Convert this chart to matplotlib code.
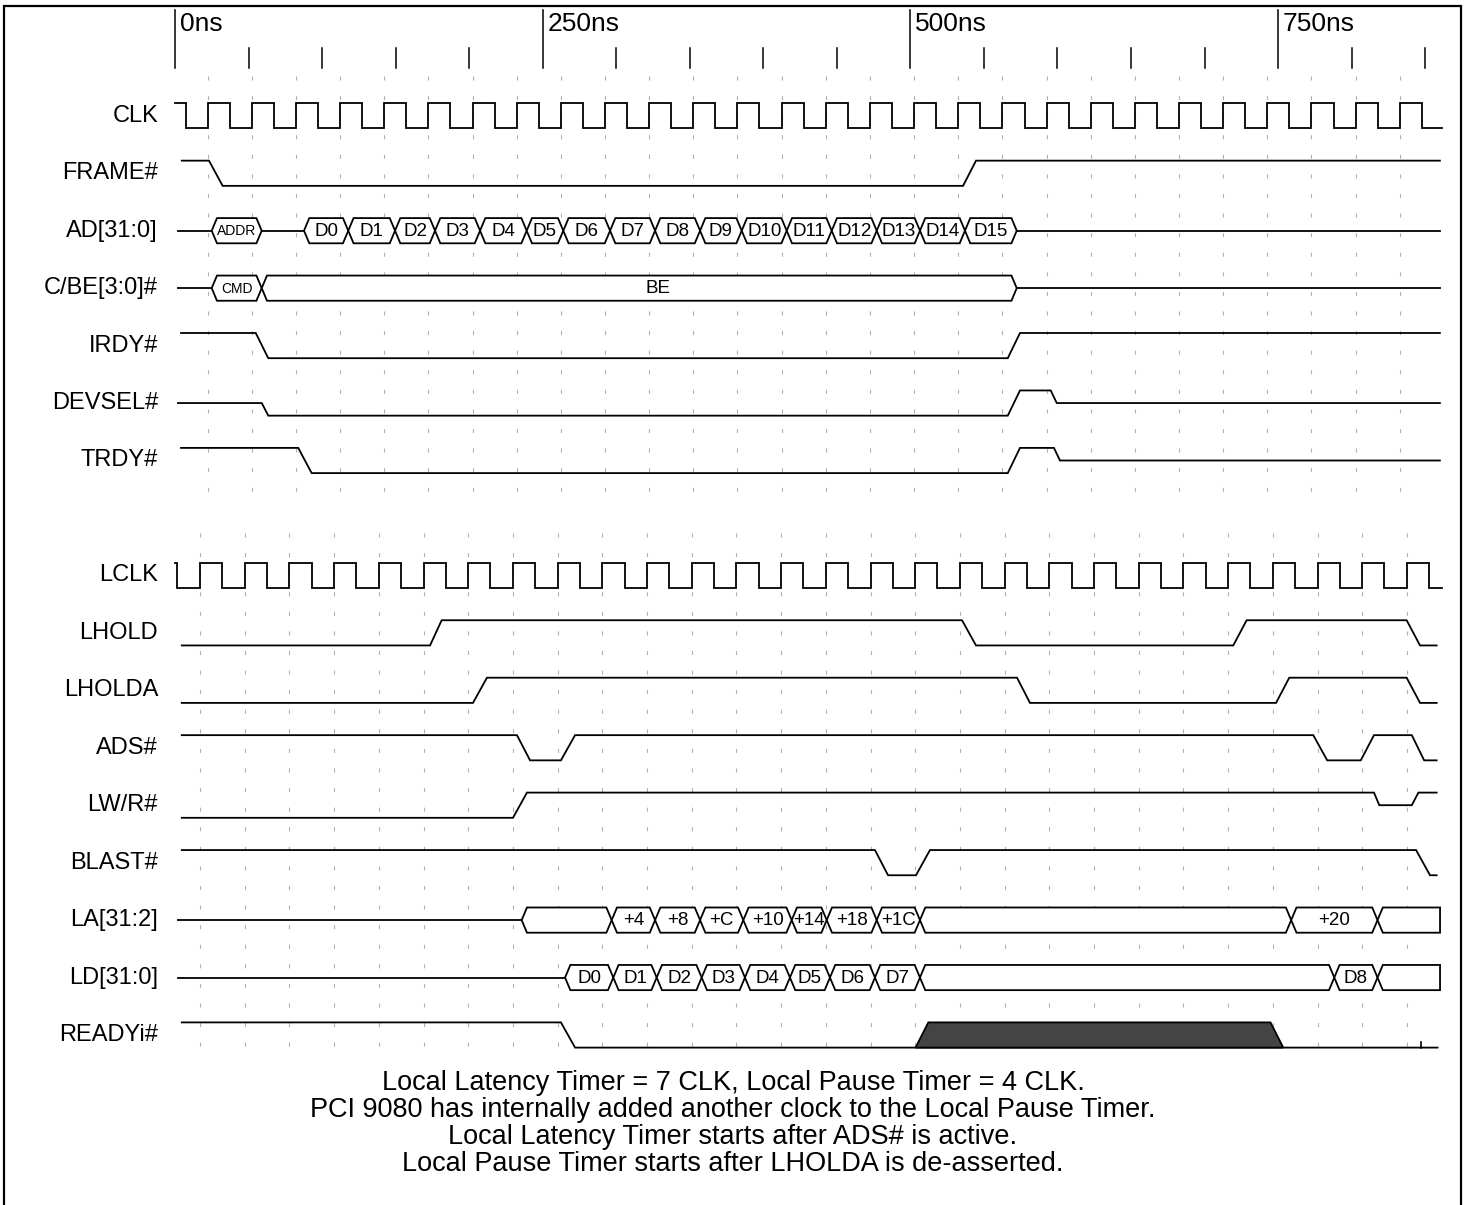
import matplotlib
matplotlib.use("Agg")
import matplotlib.pyplot as plt
from matplotlib.patches import Polygon

plt.rcParams['font.family'] = ['Liberation Sans', 'DejaVu Sans']
plt.rcParams['lines.scale_dashes'] = False

# ------------------------------------------------------------------ data
signal_names = ["CLK", "FRAME#", "AD[31:0]", "C/BE[3:0]#", "IRDY#", "DEVSEL#",
                "TRDY#", "", "LCLK", "LHOLD", "LHOLDA", "ADS#", "LW/R#",
                "BLAST#", "LA[31:2]", "LD[31:0]", "READYi#"]

major_ticks = [0, 250, 500, 750]
major_labels = ["0ns", "250ns", "500ns", "750ns"]
minor_ticks = [50, 100, 150, 200, 300, 350, 400, 450, 550, 600, 650, 700, 800, 850]

# clock rising edges (ns)
clk_rises = [22.2, 52.2, 82.2, 112.3, 142.3, 172.3, 202.3, 232.3, 262.4, 292.4,
             322.4, 352.4, 382.4, 412.5, 442.5, 472.5, 502.5, 532.5, 562.6, 592.6,
             622.6, 652.6, 682.6, 712.7, 742.7, 772.7, 802.7, 832.7]
clk_first_fall = 7.2
clk_high_ns = 15.0
lclk_rises = [17.0, 47.4, 77.8, 108.2, 138.6, 169.0, 199.3, 229.7, 260.1, 290.5,
              320.9, 351.3, 381.7, 412.1, 442.5, 472.9, 503.2, 533.6, 564.0, 594.4,
              624.8, 655.2, 685.6, 716.0, 746.4, 776.8, 807.1, 837.5]
lclk_first_fall = 1.6
lclk_high_ns = 15.2
clock_start, clock_end = 0.0, 861.4

# digital waveforms: (time ns, level) 1 = high, 0 = low, 0.5 = floating
frame_n = [(4.6, 1), (23.1, 1), (32.4, 0), (535.8, 0), (544.6, 1), (860.0, 1)]
irdy_n = [(4.1, 1), (54.9, 1), (63.4, 0), (566.2, 0), (574.5, 1), (860.0, 1)]
devsel_n = [(2.0, .5), (59.0, .5), (63.4, 0), (566.2, 0), (574.5, 1), (595.4, 1),
            (599.5, .5), (860.0, .5)]
trdy_n = [(4.1, 1), (83.8, 1), (92.9, 0), (566.2, 0), (574.5, 1), (597.6, 1),
          (601.7, .5), (860.0, .5)]
lhold = [(4.6, 0), (173.4, 0), (181.3, 1), (535.1, 1), (544.6, 0), (719.5, 0),
         (728.6, 1), (837.4, 1), (846.5, 0), (857.8, 0)]
lholda = [(4.6, 0), (202.6, 0), (212.1, 1), (572.5, 1), (581.3, 0), (748.6, 0),
          (757.6, 1), (837.4, 1), (846.5, 0), (857.8, 0)]
ads_n = [(4.6, 1), (232.5, 1), (241.4, 0), (262.4, 0), (272.0, 1), (773.9, 1),
         (783.4, 0), (806.2, 0), (815.2, 1), (840.9, 1), (849.3, 0), (857.8, 0)]
lwr_n = [(4.6, 0), (229.8, 0), (239.3, 1), (815.2, 1), (818.8, .5), (840.9, .5),
         (845.4, 1), (857.8, 1)]
blast_n = [(4.6, 1), (475.9, 1), (484.8, 0), (503.8, 0), (513.3, 1), (843.8, 1),
           (853.3, 0), (857.8, 0)]
readyi_n = [(4.6, 1), (262.4, 1), (272.0, 0), (858.4, 0)]
readyi_shade = [(503.5, 0), (512.2, 1), (744.8, 1), (753.5, 0)]
readyi_mark = 846.9

# buses: idle line segments, box boundaries and labels
ad_idle = [(2.0, 24.95), (58.95, 87.7), (572.3, 860.0)]
ad_addr_bounds = [24.95, 58.95]
ad_addr_labels = ["ADDR"]
ad_data_bounds = [87.7, 117.8, 149.6, 176.8, 207.4, 239.1, 264.0, 295.8, 326.4,
                  357.0, 385.3, 415.9, 446.5, 477.1, 506.5, 537.1, 572.3]
ad_data_labels = ["D0", "D1", "D2", "D3", "D4", "D5", "D6", "D7", "D8", "D9",
                  "D10", "D11", "D12", "D13", "D14", "D15"]

cbe_idle = [(2.0, 24.95), (572.3, 860.0)]
cbe_cmd_bounds = [24.95, 58.95]
cbe_cmd_labels = ["CMD"]
cbe_be_bounds = [58.95, 572.3]
cbe_be_labels = ["BE"]
cbe_be_label_time = 328.4

la_idle = [(2.2, 235.7)]
la_bounds = [235.7, 296.9, 326.4, 357.0, 386.4, 419.3, 443.1, 477.1, 506.5,
             758.9, 817.6, 860.1]
la_labels = ["", "+4", "+8", "+C", "+10", "+14", "+18", "+1C", "", "+20", ""]

ld_idle = [(2.2, 265.2)]
ld_bounds = [265.2, 298.0, 327.5, 358.1, 387.5, 418.1, 445.3, 475.9, 506.5,
             788.2, 817.6, 860.1]
ld_labels = ["D0", "D1", "D2", "D3", "D4", "D5", "D6", "D7", "", "D8", ""]

notes = ["Local Latency Timer = 7 CLK, Local Pause Timer = 4 CLK.",
         "PCI 9080 has internally added another clock to the Local Pause Timer.",
         "Local Latency Timer starts after ADS# is active.",
         "Local Pause Timer starts after LHOLDA is de-asserted."]

# ------------------------------------------------------------------ layout
W, H = 1466, 1205
X0_PX, PX_PER_NS = 175.0, 1.4708
ROW0, PITCH, AMP = 115.8, 57.45, 12.6
LW = 1.3

fig = plt.figure(figsize=(W / 100, H / 100), dpi=100)
ax = fig.add_axes([0, 0, 1, 1])
ax.set_xlim(-X0_PX / PX_PER_NS, (W - X0_PX) / PX_PER_NS)
ax.set_ylim(H, 0)
ax.axis('off')
deco = fig.add_axes([0, 0, 1, 1], facecolor='none')
deco.set_xlim(0, W)
deco.set_ylim(H, 0)
deco.axis('off')


def yc(i):
    return ROW0 + PITCH * i


def lvl(i, v):
    return yc(i) + AMP - 2 * AMP * v


# grid (dashed, at clock rising edges)
dash = (0, (2.9, 11.2))
for t in clk_rises:
    ax.plot([t, t], [76, 492], color='#b0b0b0', lw=0.8, linestyle=dash, zorder=0)
for t in lclk_rises:
    ax.plot([t, t], [533, 1056], color='#b0b0b0', lw=0.8, linestyle=dash, zorder=0)

# time axis
for t, lab in zip(major_ticks, major_labels):
    ax.plot([t, t], [10, 68], color='black', lw=1.1)
    ax.text(t + 5 / PX_PER_NS, 12, lab, fontsize=19, va='top', ha='left')
for t in minor_ticks:
    ax.plot([t, t], [48, 68], color='black', lw=1.1)

# signal names
for i, name in enumerate(signal_names):
    if name:
        deco.text(158, yc(i), name, fontsize=17, ha='right', va='center')


def clock(i, first_fall, rises, high):
    pts = [(clock_start, 1), (first_fall, 1), (first_fall, 0)]
    for r in rises:
        pts += [(r, 0), (r, 1), (r + high, 1), (r + high, 0)]
    pts.append((clock_end, 0))
    ax.plot([p[0] for p in pts], [lvl(i, p[1]) for p in pts], color='black',
            lw=LW, solid_joinstyle='miter')


def wave(i, pts):
    ax.plot([p[0] for p in pts], [lvl(i, p[1]) for p in pts], color='black',
            lw=LW, solid_joinstyle='miter')


H_NS = 3.6


def bus(i, idle, bounds, labels, flat_end=False, fs=13.5, label_times=None):
    for a, b in idle:
        ax.plot([a, b], [yc(i), yc(i)], color='black', lw=LW)
    top, bot, mid = lvl(i, 1), lvl(i, 0), yc(i)
    n = len(bounds) - 1
    for k in range(n):
        a, b = bounds[k], bounds[k + 1]
        if flat_end and k == n - 1:
            poly = [(a, mid), (a + H_NS, top), (b, top), (b, bot), (a + H_NS, bot)]
        else:
            poly = [(a, mid), (a + H_NS, top), (b - H_NS, top), (b, mid),
                    (b - H_NS, bot), (a + H_NS, bot)]
        ax.add_patch(Polygon(poly, closed=True, facecolor='white', edgecolor='black',
                             lw=LW, joinstyle='miter', zorder=2))
        if labels[k]:
            xt = label_times[k] if label_times else (a + b) / 2
            ax.text(xt, mid + 0.5, labels[k], fontsize=fs, ha='center',
                    va='center', zorder=3)


clock(0, clk_first_fall, clk_rises, clk_high_ns)
wave(1, frame_n)
bus(2, ad_idle, ad_addr_bounds, ad_addr_labels, fs=10)
bus(2, [], ad_data_bounds, ad_data_labels)
bus(3, cbe_idle, cbe_cmd_bounds, cbe_cmd_labels, fs=10)
bus(3, [], cbe_be_bounds, cbe_be_labels, label_times=[cbe_be_label_time])
wave(4, irdy_n)
wave(5, devsel_n)
wave(6, trdy_n)
clock(8, lclk_first_fall, lclk_rises, lclk_high_ns)
wave(9, lhold)
wave(10, lholda)
wave(11, ads_n)
wave(12, lwr_n)
wave(13, blast_n)
bus(14, la_idle, la_bounds, la_labels, flat_end=True)
bus(15, ld_idle, ld_bounds, ld_labels, flat_end=True)
wave(16, readyi_n)
ax.add_patch(Polygon([(t, lvl(16, v)) for t, v in readyi_shade], closed=True,
                     facecolor='#444444', edgecolor='black', lw=LW, zorder=2))
ax.plot([readyi_mark, readyi_mark], [lvl(16, 0), lvl(16, 0) - 6], color='black', lw=1.2)

# notes
for k, line in enumerate(notes):
    deco.text(733, 1083 + 27 * k, line, fontsize=19.5, ha='center', va='center')

# border (left, top, right)
deco.plot([4, 4, 1461, 1461], [H + 5, 6, 6, H + 5], color='black', lw=1.6,
          solid_joinstyle='miter', clip_on=False)

fig.savefig("out.png", dpi=100)
